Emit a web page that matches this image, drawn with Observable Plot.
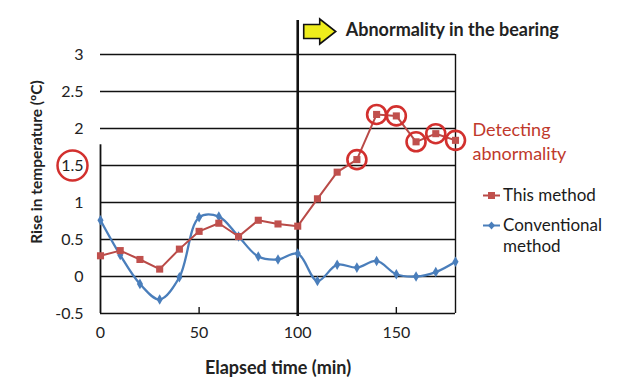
<!DOCTYPE html>
<html><head><meta charset="utf-8">
<script src="https://cdn.jsdelivr.net/npm/d3@7"></script>
<script src="https://cdn.jsdelivr.net/npm/@observablehq/plot@0.6"></script>
<style>
body{margin:0;background:#fff;font-family:Lato,sans-serif;}
#wrap{position:relative;width:640px;height:391px;overflow:hidden;}
.leg{position:absolute;font-size:17px;color:#1a1a1a;line-height:16px;height:16px;white-space:nowrap;}
.sw{position:absolute;}
</style></head><body><div id="wrap"></div>
<script>
const times = [0,10,20,30,40,50,60,70,80,90,100,110,120,130,140,150,160,170,180];
const thisMethod = [0.28,0.35,0.23,0.10,0.37,0.61,0.72,0.54,0.76,0.71,0.68,1.05,1.41,1.58,2.19,2.17,1.82,1.93,1.84];
const conventional = [0.76,0.29,-0.10,-0.31,-0.01,0.80,0.81,0.54,0.27,0.23,0.31,-0.06,0.16,0.12,0.21,0.03,0.00,0.06,0.20];
const yTicks = [-0.5,0,0.5,1,1.5,2,2.5,3];
const xTicks = [0,50,100,150];
const onset = 100;
const detectedFrom = 130;
const highlightTick = 1.5;
const leftAxisTop = 1.78;
const seriesNames = ["This method", "Conventional method"];

const RED = "#b94a47", REDMK = "#c0504d", BLUE = "#4a7ebb", CIRC = "#d2302e";
const red = times.map((t,i)=>({t, v: thisMethod[i]}));
const blue = times.map((t,i)=>({t, v: conventional[i]}));

const arrowSymbol = {draw(ctx){
  ctx.moveTo(-16,-7); ctx.lineTo(0,-7); ctx.lineTo(0,-12.5); ctx.lineTo(16,0);
  ctx.lineTo(0,12.5); ctx.lineTo(0,7); ctx.lineTo(-16,7); ctx.closePath();
}};

const chart = Plot.plot({
  width: 640, height: 391,
  marginLeft: 100, marginRight: 185, marginTop: 54, marginBottom: 78,
  style: {fontFamily: "Lato, sans-serif", fontSize: "16px", color: "#222", background: "white"},
  x: {domain: [0, 180]},
  y: {domain: [-0.5, 3]},
  marks: [
    Plot.ruleY(yTicks, {x1: 0, x2: 180, stroke: "#111", strokeWidth: 1.4}),
    Plot.ruleX([180], {stroke: "#111", strokeWidth: 1.4}),
    Plot.ruleX([0], {y1: -0.5, y2: leftAxisTop, stroke: "#111", strokeWidth: 1.8}),
    Plot.ruleX([50, 150], {y1: -0.5, y2: -0.5, insetTop: -6, stroke: "#111", strokeWidth: 1.4}),
    Plot.ruleX([onset], {stroke: "#111", strokeWidth: 2.6, insetTop: -34, insetBottom: -3}),
    Plot.axisY({ticks: yTicks, tickSize: 0, tickPadding: 17, label: null, tickFormat: d => String(d), fill: "#222"}),
    Plot.axisX({ticks: xTicks, tickSize: 0, tickPadding: 13, label: null, tickFormat: d => String(d), fill: "#222"}),
    Plot.text(["Elapsed time (min)"], {frameAnchor: "bottom", lineAnchor: "middle", dy: 55, fontSize: 18, fontWeight: "bold", fill: "#222"}),
    Plot.text(["Rise in temperature (ºC)"], {frameAnchor: "left", textAnchor: "middle", rotate: -90, dx: -63, dy: -22, fontSize: 15.5, fontWeight: "bold", fill: "#222"}),
    Plot.dot([highlightTick], {y: d => d, frameAnchor: "left", dx: -28, r: 15, stroke: CIRC, strokeWidth: 2.5, fill: "none"}),
    Plot.line(blue, {x: "t", y: "v", stroke: BLUE, strokeWidth: 2.3, curve: "catmull-rom"}),
    Plot.dot(blue, {x: "t", y: "v", symbol: "diamond", r: 3.2, fill: BLUE}),
    Plot.line(red, {x: "t", y: "v", stroke: RED, strokeWidth: 2}),
    Plot.dot(red, {x: "t", y: "v", symbol: "square", r: 4, fill: REDMK}),
    Plot.dot(red.filter(d => d.t >= detectedFrom), {x: "t", y: "v", r: 9.5, stroke: CIRC, strokeWidth: 2.6, fill: "none"}),
    Plot.text([red[red.length - 1]], {x: "t", y: "v", text: () => "Detecting\nabnormality", textAnchor: "start", dx: 17, fill: "#c0392b", fontSize: 18, lineHeight: 1.3}),
    Plot.dot([onset], {x: d => d, frameAnchor: "top", dx: 22, dy: -23, symbol: arrowSymbol, r: 10, fill: "#eeec1c", stroke: "#111", strokeWidth: 1.6}),
    Plot.text([onset], {x: d => d, frameAnchor: "top", lineAnchor: "middle", dx: 48, dy: -24, text: () => "Abnormality in the bearing", textAnchor: "start", fontWeight: "bold", fontSize: 18, fill: "#222"})
  ]
});
const wrap = document.getElementById("wrap");
wrap.appendChild(chart);

function addDiv(cls, left, top, html) {
  const d = document.createElement("div");
  d.className = cls;
  d.style.left = left + "px";
  d.style.top = top + "px";
  d.innerHTML = html;
  wrap.appendChild(d);
}
function legendItem(name, color, symbol, left, top) {
  const mk = symbol === "square"
    ? `<rect x="5" y="4" width="7" height="7" fill="${REDMK}"/>`
    : `<path d="M8.5 3.5 L12 7.5 L8.5 11.5 L5 7.5Z" fill="${color}"/>`;
  addDiv("sw", left - 20, top + 0.5, `<svg width="18" height="15" style="display:block"><line x1="0" x2="17" y1="7.5" y2="7.5" stroke="${color}" stroke-width="2"/>${mk}</svg>`);
  const words = name.split(" ");
  const lines = name === seriesNames[1] ? [words[0], words.slice(1).join(" ")] : [name];
  lines.forEach((ln, i) => addDiv("leg", left, top + i * 20.5, ln));
}
legendItem(seriesNames[0], RED, "square", 503, 187);
legendItem(seriesNames[1], BLUE, "diamond", 503, 217);
</script>
</body></html>
